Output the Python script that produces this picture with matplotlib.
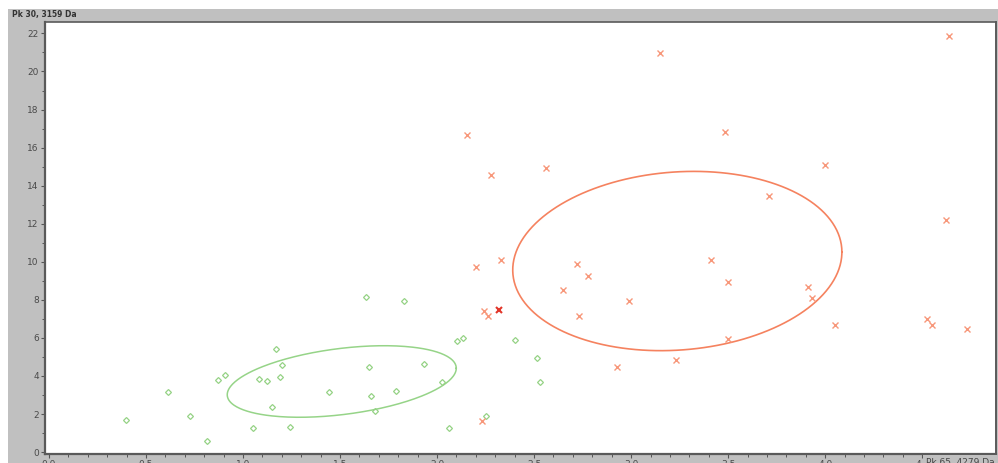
import numpy as np
import matplotlib.pyplot as plt
from matplotlib.patches import Rectangle

# group A (green diamonds): Pk 65 intensity vs Pk 30 intensity
green_x = [0.397, 0.615, 0.727, 0.813, 0.871, 0.909, 1.053, 1.084, 1.122, 1.168,
           1.148, 1.190, 1.200, 1.242, 1.445, 1.651, 1.658, 1.682, 1.789, 1.636,
           1.828, 1.935, 2.024, 2.060, 2.105, 2.136, 2.400, 2.514, 2.531, 2.253]
green_y = [1.68, 3.17, 1.89, 0.56, 3.79, 4.04, 1.25, 3.82, 3.74, 5.40,
           2.39, 3.93, 4.60, 1.30, 3.14, 4.47, 2.97, 2.18, 3.21, 8.14,
           7.96, 4.65, 3.67, 1.29, 5.82, 5.98, 5.91, 4.93, 3.67, 1.88]

# group B (orange crosses)
orange_x = [2.153, 2.278, 2.563, 2.199, 2.330, 2.240, 2.263, 2.720, 2.778, 2.650,
            2.990, 2.730, 2.928, 3.230, 4.000, 3.710, 4.620, 3.410, 3.500, 3.910,
            3.930, 4.050, 4.527, 4.550, 4.730, 3.500, 4.636, 3.150, 3.485, 2.233]
orange_y = [16.65, 14.54, 14.93, 9.75, 10.09, 7.44, 7.14, 9.89, 9.23, 8.54,
            7.95, 7.14, 4.49, 4.86, 15.10, 13.47, 12.17, 10.10, 8.95, 8.65,
            8.10, 6.70, 6.98, 6.67, 6.49, 5.95, 21.86, 20.95, 16.80, 1.63]

# highlighted sample
red_x = [2.320]
red_y = [7.49]

# confidence ellipses: centre, half-extent in x and y, correlation
green_ell = dict(cx=1.509, cy=3.71, wx=0.59, wy=1.88, r=0.37)
orange_ell = dict(cx=3.238, cy=10.04, wx=0.848, wy=4.71, r=0.10)


def ellipse(cx, cy, wx, wy, r):
    t = np.linspace(0, 2 * np.pi, 300)
    phi = np.arccos(r)
    return cx + wx * np.cos(t), cy + wy * np.cos(t - phi)


W, H = 998, 463
fig = plt.figure(figsize=(W / 100, H / 100), dpi=100, facecolor='white')
fig.patches.append(Rectangle((8 / W, 0), 1, (H - 9) / H, transform=fig.transFigure,
                             facecolor='#c0c0c0', edgecolor='none', zorder=-1))

ax = fig.add_axes([45 / W, (H - 454) / H, (996 - 45) / W, (454 - 22) / H])
ax.set_facecolor('white')

gx, gy = ellipse(**green_ell)
ax.plot(gx, gy, color='#96d488', lw=1.1)
ox, oy = ellipse(**orange_ell)
ax.plot(ox, oy, color='#f5825f', lw=1.2)

ax.plot(green_x, green_y, 'D', ms=3.0, mfc='none', mec='#95d285', mew=0.9, ls='none')
ax.plot(orange_x, orange_y, 'x', ms=4.0, color='#f7977a', mew=1.0, ls='none')
ax.plot(red_x, red_y, 'x', ms=4.0, color='#e2362a', mew=1.5, ls='none')

ax.set_xlim(-0.02, 4.88)
ax.set_ylim(-0.1, 22.6)
ax.set_xticks(np.arange(0, 4.6, 0.5))
ax.set_xticks(np.arange(0, 4.9, 0.1), minor=True)
ax.set_yticks(np.arange(0, 23, 2))
ax.set_yticks(np.arange(0, 23, 1), minor=True)
ax.xaxis.set_major_formatter(plt.FormatStrFormatter('%.1f'))

for s in ax.spines.values():
    s.set_color('#5a5a5a')
ax.spines['left'].set_linewidth(1.6)
ax.spines['bottom'].set_linewidth(1.6)
ax.spines['top'].set_linewidth(1.2)
ax.spines['right'].set_linewidth(1.4)

ax.tick_params(axis='both', which='major', length=3, width=0.8, color='#555555',
               labelsize=6.5, labelcolor='#4a4a4a', pad=1.5)
ax.tick_params(axis='both', which='minor', length=2, width=0.7, color='#555555')

fig.text(12 / W, (H - 15) / H, 'Pk 30, 3159 Da', fontsize=5.5, color='#333333',
         fontweight='bold', va='center', ha='left')
# x-axis name sits in the lower right corner, over the last tick label
fig.text(926 / W, (H - 462) / H, 'Pk 65, 4279 Da', fontsize=6.5, color='#444444',
         va='center', ha='left', zorder=5,
         bbox=dict(boxstyle='square,pad=0.3', facecolor='#c0c0c0', edgecolor='none'))

fig.savefig('out.png', dpi=100)
